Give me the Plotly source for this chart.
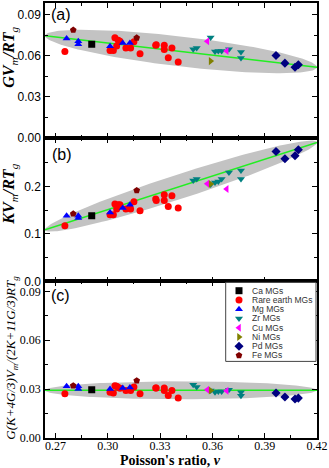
import numpy as np
import plotly.graph_objects as go

# ---------------- data ----------------
groups = ["Ca MGs", "Rare earth MGs", "Mg MGs", "Zr MGs", "Cu MGs", "Ni MGs", "Pd MGs", "Fe MGs"]

ca_nu = [0.2908]
ca_a = [0.0684]
ca_b = [0.1383]
ca_c = [0.0296]

re_nu = [0.2754, 0.3013, 0.3032, 0.3041, 0.3051, 0.3060, 0.3070, 0.3104, 0.3131,
         0.3150, 0.3185, 0.3275, 0.3278, 0.3324, 0.3324, 0.3368, 0.3347, 0.3404]
re_a = [0.0632, 0.0639, 0.0639, 0.0731, 0.0672, 0.0714, 0.0706, 0.0657, 0.0657,
        0.0702, 0.0615, 0.0677, 0.0680, 0.0677, 0.0645, 0.0657, 0.0585, 0.0554]
re_b = [0.1173, 0.1404, 0.1404, 0.1630, 0.1524, 0.1615, 0.1615, 0.1524, 0.1524,
        0.1680, 0.1488, 0.1735, 0.1705, 0.1825, 0.1705, 0.1804, 0.1580, 0.1545]
re_c = [0.0272, 0.0280, 0.0276, 0.0321, 0.0317, 0.0310, 0.0305, 0.0292, 0.0292,
        0.0313, 0.0272, 0.0307, 0.0307, 0.0307, 0.0292, 0.0292, 0.0261, 0.0245]

mg_nu = [0.2764, 0.2831, 0.2831, 0.3013, 0.3086, 0.3127]
mg_a = [0.0726, 0.0706, 0.0684, 0.0669, 0.0694, 0.0694]
mg_b = [0.1383, 0.1380, 0.1335, 0.1453, 0.1545, 0.1615]
mg_c = [0.0317, 0.0317, 0.0301, 0.0301, 0.0307, 0.0310]

zr_nu = [0.3490, 0.3510, 0.3590, 0.3615, 0.3634, 0.3653, 0.3695, 0.3764, 0.3764]
zr_a = [0.0647, 0.0657, 0.0733, 0.0632, 0.0635, 0.0635, 0.0647, 0.0628, 0.0583]
zr_b = [0.2126, 0.2156, 0.2040, 0.2084, 0.2105, 0.2156, 0.2295, 0.2337, 0.2156]
zr_c = [0.0327, 0.0313, 0.0292, 0.0280, 0.0286, 0.0286, 0.0296, 0.0280, 0.0260]

cu_nu = [0.3571, 0.3682]
cu_a = [0.0706, 0.0635]
cu_b = [0.2057, 0.1945]
cu_c = [0.0296, 0.0290]

ni_nu = [0.3590]
ni_a = [0.0561]
ni_b = [0.2050]
ni_c = [0.0292]

pd_nu = [0.3965, 0.4016, 0.4074, 0.4093]
pd_a = [0.0602, 0.0546, 0.0516, 0.0534]
pd_b = [0.2737, 0.2583, 0.2646, 0.2773]
pd_c = [0.0276, 0.0252, 0.0239, 0.0245]

fe_nu = [0.2802, 0.3166]
fe_a = [0.0788, 0.0731]
fe_b = [0.1425, 0.1916]
fe_c = [0.0321, 0.0352]

# linear fits (intercept, slope) per panel
fit_a = (0.1134, -0.147)
fit_b = (-0.2025, 1.179)
fit_c = (0.0293, 0.0)
# confidence ellipse half-widths per panel
ell_half = {"a": 0.011, "b": 0.027, "c": 0.0055}

x_ticks = [0.27, 0.30, 0.33, 0.36, 0.39, 0.42]
x_range = [0.264, 0.42]

# ---------------- styles ----------------
styles = {
    "Ca MGs": ("square", "#000000"),
    "Rare earth MGs": ("circle", "#ff0000"),
    "Mg MGs": ("triangle-up", "#0000ff"),
    "Zr MGs": ("triangle-down", "#008080"),
    "Cu MGs": ("triangle-left", "#ff00ff"),
    "Ni MGs": ("triangle-right", "#808000"),
    "Pd MGs": ("diamond", "#000080"),
    "Fe MGs": ("pentagon", "#800000"),
}
series = {
    "Ca MGs": (ca_nu, ca_a, ca_b, ca_c),
    "Rare earth MGs": (re_nu, re_a, re_b, re_c),
    "Mg MGs": (mg_nu, mg_a, mg_b, mg_c),
    "Zr MGs": (zr_nu, zr_a, zr_b, zr_c),
    "Cu MGs": (cu_nu, cu_a, cu_b, cu_c),
    "Ni MGs": (ni_nu, ni_a, ni_b, ni_c),
    "Pd MGs": (pd_nu, pd_a, pd_b, pd_c),
    "Fe MGs": (fe_nu, fe_a, fe_b, fe_c),
}

fig = go.Figure()
panels = [("a", "x", "y", fit_a, 1), ("b", "x2", "y2", fit_b, 2), ("c", "x3", "y3", fit_c, 3)]

t = np.linspace(0, 2 * np.pi, 200)
cx = (x_range[0] + x_range[1]) / 2
A = (x_range[1] - x_range[0]) / 2
for key, xa, ya, fit, idx in panels:
    c0, s = fit
    ex = cx + A * np.cos(t)
    ey = c0 + s * ex + ell_half[key] * np.sin(t)
    fig.add_trace(go.Scatter(x=ex, y=ey, xaxis=xa, yaxis=ya, mode="lines", fill="toself",
                             fillcolor="#c3c3c3", line=dict(width=0), showlegend=False,
                             hoverinfo="skip"))
    lx = np.array(x_range)
    fig.add_trace(go.Scatter(x=lx, y=c0 + s * lx, xaxis=xa, yaxis=ya, mode="lines",
                             line=dict(color="#22ee22", width=1.6), showlegend=False))
    for g in groups:
        sym, col = styles[g]
        d = series[g]
        fig.add_trace(go.Scatter(x=d[0], y=d[idx], xaxis=xa, yaxis=ya, mode="markers",
                                 marker=dict(symbol=sym, color=col, size=7, line=dict(width=0)),
                                 name=g, showlegend=False))

W, H = 329, 468
ml, mr, mt, mb = 45, 12, 3, 30
ptop, pbot = 3.3, 438.3
ph = pbot - ptop
y_ab = (pbot - 138.3) / ph
y_bc = (pbot - 281.7) / ph

# ---------------- custom compact legend (pixel overlay axis) ----------------
leg_x_sym = 239
leg_x_txt = 250
leg_y0 = 291
leg_dy = 9.25
leg_y = [leg_y0 + i * leg_dy for i in range(len(groups))]
fig.add_trace(go.Scatter(x=[leg_x_sym] * len(groups), y=leg_y, xaxis="x4", yaxis="y4",
                         mode="markers",
                         marker=dict(symbol=[styles[g][0] for g in groups],
                                     color=[styles[g][1] for g in groups], size=7),
                         showlegend=False, hoverinfo="skip"))

axis_common = dict(showline=True, linecolor="black", linewidth=1.5, mirror="ticks",
                   ticks="inside", ticklen=5, tickwidth=1.2, tickcolor="black",
                   showgrid=False, zeroline=False)
xcommon = dict(axis_common, range=x_range, tickvals=x_ticks,
               minor=dict(ticks="inside", ticklen=3, dtick=0.015, tick0=0.27, tickcolor="black", tickwidth=1))

fig.update_layout(
    width=W, height=H, margin=dict(l=ml, r=mr, t=mt, b=mb, autoexpand=False),
    paper_bgcolor="white", plot_bgcolor="rgba(0,0,0,0)", showlegend=False,
    xaxis=dict(xcommon, anchor="y", showticklabels=False, domain=[0, 1]),
    xaxis2=dict(xcommon, anchor="y2", showticklabels=False, domain=[0, 1]),
    xaxis3=dict(xcommon, anchor="y3", showticklabels=True, domain=[0, 1], ticklabelstandoff=-4,
                tickformat=".2f", tickfont=dict(family="Liberation Serif", size=12, color="black")),
    yaxis=dict(axis_common, domain=[y_ab, 1], range=[0, 0.0985], tickvals=[0, 0.03, 0.06, 0.09],
               tickformat=".2f", tickfont=dict(family="Liberation Sans", size=12, color="black"),
               minor=dict(ticks="inside", ticklen=3, dtick=0.015, tickcolor="black", tickwidth=1)),
    yaxis2=dict(axis_common, domain=[y_bc, y_ab], range=[0, 0.302], tickvals=[0, 0.1, 0.2],
                tickformat=".1f", tickfont=dict(family="Liberation Sans", size=12, color="black"),
                minor=dict(ticks="inside", ticklen=3, dtick=0.05, tickcolor="black", tickwidth=1)),
    yaxis3=dict(axis_common, domain=[0, y_bc], range=[0, 0.0961], tickvals=[0, 0.03, 0.06, 0.09],
                tickformat=".2f", tickfont=dict(family="Liberation Serif", size=12, color="black"),
                minor=dict(ticks="inside", ticklen=3, dtick=0.015, tickcolor="black", tickwidth=1)),
    xaxis4=dict(domain=[0, 1], range=[ml, W - mr], visible=False, anchor="y4"),
    yaxis4=dict(domain=[0, 1], range=[pbot, ptop], visible=False, anchor="x4"),
)


def px_x(px):
    return (px - ml) / (W - ml - mr)


def px_y(py):
    return (pbot - py) / ph


shapes = [dict(type="rect", xref="x4", yref="y4", x0=225.7, x1=316, y0=282.7, y1=361.7,
               line=dict(color="#444444", width=1), fillcolor="white", layer="below")]
fig.update_layout(shapes=shapes)

ann = []
for g, yy in zip(groups, leg_y):
    ann.append(dict(x=leg_x_txt, y=yy, xref="x4", yref="y4", text=g, showarrow=False,
                    xanchor="left", yanchor="middle",
                    font=dict(family="Liberation Sans", size=8.5, color="#333333")))
for lab, px, py in [("(a)", 61, 15), ("(b)", 62, 155), ("(c)", 60, 296)]:
    ann.append(dict(x=px_x(px), y=px_y(py), xref="paper", yref="paper", text=lab, showarrow=False,
                    xanchor="center", yanchor="middle",
                    font=dict(family="Liberation Sans", size=16, color="black")))
ann.append(dict(x=px_x(10), y=px_y(58), xref="paper", yref="paper", textangle=-90, showarrow=False,
                text="<b><i>GV</i></b><sub><i>m</i></sub><b><i>/RT</i></b><sub><i>g</i></sub>",
                xanchor="center", yanchor="middle",
                font=dict(family="Liberation Serif", size=16, color="black")))
ann.append(dict(x=px_x(10), y=px_y(195), xref="paper", yref="paper", textangle=-90, showarrow=False,
                text="<b><i>KV</i></b><sub><i>m</i></sub><b><i>/RT</i></b><sub><i>g</i></sub>",
                xanchor="center", yanchor="middle",
                font=dict(family="Liberation Serif", size=16, color="black")))
ann.append(dict(x=px_x(12), y=px_y(358), xref="paper", yref="paper", textangle=-90, showarrow=False,
                text="<i>G(K+4G/3)V</i><sub><i>m</i></sub><i>/(2K+11G/3)RT</i><sub><i>g</i></sub>",
                xanchor="center", yanchor="middle",
                font=dict(family="Liberation Serif", size=13, color="black")))
ann.append(dict(x=px_x(170), y=px_y(461), xref="paper", yref="paper", showarrow=False,
                text="<b>Poisson's ratio, <i>ν</i></b>", xanchor="center", yanchor="middle",
                font=dict(family="Liberation Serif", size=14, color="black")))
fig.update_layout(annotations=ann)

fig.write_html("out.html", config={"displayModeBar": False},
               post_script="document.body.style.margin='0';")
